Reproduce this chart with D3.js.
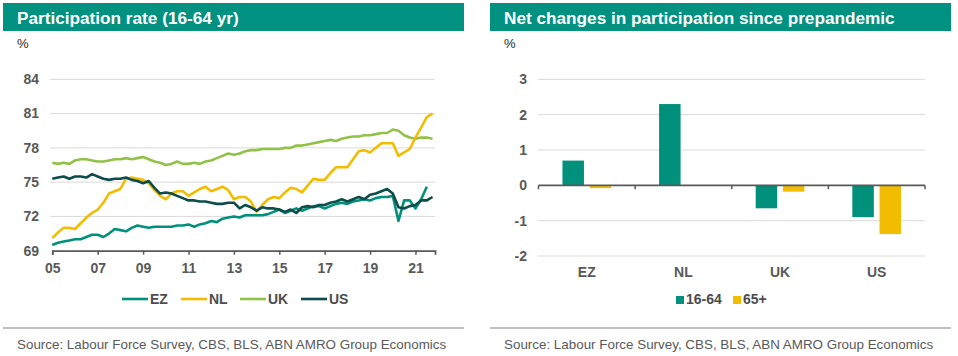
<!DOCTYPE html>
<html><head><meta charset="utf-8">
<script src="https://cdn.jsdelivr.net/npm/d3@7"></script>
<style>
html,body{margin:0;padding:0;background:#fff;}
svg{display:block;font-family:"Liberation Sans",Arial,sans-serif;}
</style></head>
<body>
<svg id="chart" width="958" height="356"></svg>
<script>
// ---------- DATA ----------
const quarters = d3.range(0, 68).map(i => 2005 + i * 0.25); // 2005Q1 .. 2021Q4
const yearTicks = [2005, 2007, 2009, 2011, 2013, 2015, 2017, 2019, 2021];
const leftYTicks = [69, 72, 75, 78, 81, 84];
const seriesNames = ["EZ", "NL", "UK", "US"];
const ezValues = [
  69.5, 69.7, 69.8, 69.9,  70.0, 70.0, 70.2, 70.4,  70.4, 70.2, 70.5, 70.9,  70.8, 70.7, 71.0, 71.2,
  71.1, 71.0, 71.1, 71.1,  71.1, 71.1, 71.2, 71.2,  71.3, 71.1, 71.3, 71.4,  71.6, 71.5, 71.8, 71.9,
  72.0, 71.9, 72.1, 72.1,  72.1, 72.1, 72.2, 72.4,  72.6, 72.3, 72.5, 72.7,  72.5, 72.7, 72.9, 72.9,
  72.7, 72.9, 73.1, 73.2,  73.1, 73.3, 73.4, 73.5,  73.4, 73.6, 73.7, 73.7,  73.8, 71.6, 73.4, 73.4,
  72.7, 73.5, 74.6, null
];
const nlValues = [
  70.1, 70.6, 71.0, 71.0,  70.9, 71.4, 71.9, 72.3,  72.6, 73.2, 74.0, 74.2,  74.4, 75.3, 75.4, 75.3,
  75.2, 74.9, 74.3, 73.8,  73.5, 74.0, 74.2, 74.2,  73.8, 74.1, 74.4, 74.6,  74.2, 74.4, 74.6, 74.3,
  73.5, 73.7, 73.7, 73.3,  72.4, 73.0, 73.5, 73.7,  73.6, 74.1, 74.5, 74.4,  74.1, 74.7, 75.3, 75.2,
  75.2, 75.8, 76.3, 76.3,  76.3, 77.0, 77.7, 77.8,  77.6, 78.0, 78.4, 78.4,  78.4, 77.3, 77.6, 77.9,
  78.9, 79.8, 80.7, 81.0
];
const ukValues = [
  76.7, 76.6, 76.7, 76.6,  76.9, 77.0, 77.0, 76.9,  76.8, 76.8, 76.9, 77.0,  77.0, 77.1, 77.0, 77.1,
  77.2, 77.0, 76.8, 76.7,  76.5, 76.6, 76.8, 76.6,  76.6, 76.7, 76.6, 76.8,  76.9, 77.1, 77.3, 77.5,
  77.4, 77.5, 77.7, 77.8,  77.8, 77.9, 77.9, 77.9,  77.9, 78.0, 78.0, 78.2,  78.2, 78.3, 78.4, 78.5,
  78.6, 78.7, 78.6, 78.8,  78.9, 79.0, 79.0, 79.1,  79.1, 79.2, 79.3, 79.3,  79.6, 79.5, 79.1, 78.9,
  78.8, 78.9, 78.9, 78.8
];
const usValues = [
  75.3, 75.4, 75.5, 75.3,  75.5, 75.5, 75.4, 75.7,  75.5, 75.3, 75.2, 75.3,  75.3, 75.4, 75.2, 75.1,
  74.9, 75.1, 74.5, 74.0,  74.1, 74.0, 73.8, 73.6,  73.4, 73.4, 73.3, 73.3,  73.2, 73.1, 73.1, 73.2,
  73.2, 72.7, 73.0, 72.8,  72.5, 72.8, 72.7, 72.7,  72.6, 72.4, 72.6, 72.3,  72.8, 72.9, 72.8, 73.0,
  73.0, 73.2, 73.3, 73.5,  73.3, 73.5, 73.7, 73.5,  73.9, 74.0, 74.2, 74.4,  74.0, 72.8, 72.7, 72.9,
  73.0, 73.4, 73.4, 73.7
];
const barCategories = ["EZ", "NL", "UK", "US"];
const barSeries = ["16-64", "65+"];
const values1664 = [0.7, 2.3, -0.65, -0.9];
const values65 = [-0.08, 0, -0.18, -1.38];
const rightYTicks = [-2, -1, 0, 1, 2, 3];

// ---------- STYLE ----------
const teal = "#009180";
const colors = { EZ: "#00907c", NL: "#f2bd00", UK: "#92c147", US: "#0c4c4a" };
const barColors = { "16-64": "#00907c", "65+": "#f2bd00" };
const gridColor = "#d9d9d9";
const axisColor = "#595959";
const labelColor = "#595959";
const sourceText = "Source: Labour Force Survey, CBS, BLS, ABN AMRO Group Economics";

const svg = d3.select("#chart");

function panel(x0, x1, title) {
  svg.append("rect").attr("x", x0).attr("y", 3).attr("width", x1 - x0).attr("height", 28).attr("fill", teal);
  svg.append("text").attr("x", x0 + 14).attr("y", 24).attr("fill", "#fff")
    .attr("font-size", 17.2).attr("font-weight", "bold").text(title);
  svg.append("text").attr("x", x0 + 14).attr("y", 48).attr("fill", "#262626")
    .attr("font-size", 13).text("%");
  svg.append("line").attr("x1", x0).attr("x2", x1).attr("y1", 328).attr("y2", 328)
    .attr("stroke", "#bfbfbf").attr("stroke-width", 2);
  svg.append("text").attr("x", x0 + 14).attr("y", 349).attr("fill", labelColor)
    .attr("font-size", 13.4).text(sourceText);
}
panel(3, 464, "Participation rate (16-64 yr)");
panel(490, 951, "Net changes in participation since prepandemic");

// ---------- LEFT CHART ----------
const xL = d3.scaleLinear().domain([2005, 2021.86]).range([52.3, 435]);
const yL = d3.scaleLinear().domain([69, 84]).range([250.7, 79.3]);

const gL = svg.append("g");
gL.append("g").selectAll("line").data(leftYTicks.filter(d => d !== 69)).join("line")
  .attr("x1", 50).attr("x2", 435).attr("y1", d => yL(d)).attr("y2", d => yL(d))
  .attr("stroke", gridColor).attr("stroke-width", 1);
gL.append("g").selectAll("text").data(leftYTicks).join("text")
  .attr("x", 39).attr("y", d => yL(d)).attr("dy", "0.35em").attr("text-anchor", "end")
  .attr("font-size", 14).attr("font-weight", "bold").attr("fill", labelColor).text(d => d);

const seriesData = { EZ: ezValues, NL: nlValues, UK: ukValues, US: usValues };
const line = d3.line().defined(d => d[1] != null).x(d => xL(d[0])).y(d => yL(d[1]));
["UK", "NL", "EZ", "US"].forEach(name => {
  const pts = quarters.map((q, i) => [q, seriesData[name][i]]);
  gL.append("path").datum(pts).attr("d", line).attr("fill", "none")
    .attr("stroke", colors[name]).attr("stroke-width", 2.6).attr("stroke-linejoin", "round");
});

const xAxisL = d3.axisBottom(xL).tickValues(yearTicks).tickSize(4).tickPadding(8)
  .tickFormat(d => String(d % 100).padStart(2, "0"));
const axL = gL.append("g").attr("transform", `translate(0,${yL(69)})`).call(xAxisL);
axL.select(".domain").attr("stroke", axisColor).attr("stroke-width", 1.8);
axL.selectAll(".tick line").attr("stroke", axisColor).attr("stroke-width", 1.5);
axL.selectAll(".tick text").attr("font-size", 14).attr("font-weight", "bold")
  .attr("fill", labelColor).attr("font-family", "Liberation Sans, Arial, sans-serif");

// left legend
const legL = svg.append("g");
const legPos = [{ n: "EZ", x: 122 }, { n: "NL", x: 181 }, { n: "UK", x: 240 }, { n: "US", x: 301 }];
legPos.forEach(p => {
  legL.append("line").attr("x1", p.x).attr("x2", p.x + 26).attr("y1", 299).attr("y2", 299)
    .attr("stroke", colors[p.n]).attr("stroke-width", 2.6);
  legL.append("text").attr("x", p.x + 28).attr("y", 304).attr("font-size", 14).attr("font-weight", "bold")
    .attr("fill", "#4d4d4d").text(p.n);
});

// ---------- RIGHT CHART ----------
const xR = d3.scaleBand().domain(barCategories).range([538.5, 925]).padding(0);
const xInner = d3.scaleBand().domain(barSeries).range([0, xR.bandwidth()])
  .paddingInner(0.21).paddingOuter(0.88);
const yR = d3.scaleLinear().domain([-2, 3]).range([256, 79.3]);

const gR = svg.append("g");
gR.append("g").selectAll("line").data(rightYTicks.filter(d => d !== 0)).join("line")
  .attr("x1", 538).attr("x2", 925).attr("y1", d => yR(d)).attr("y2", d => yR(d))
  .attr("stroke", gridColor).attr("stroke-width", 1);
gR.append("g").selectAll("text").data(rightYTicks).join("text")
  .attr("x", 527).attr("y", d => yR(d)).attr("dy", "0.35em").attr("text-anchor", "end")
  .attr("font-size", 14).attr("font-weight", "bold").attr("fill", labelColor).text(d => d);

const barData = [];
barCategories.forEach((c, i) => {
  barData.push({ c, s: "16-64", v: values1664[i] });
  barData.push({ c, s: "65+", v: values65[i] });
});
gR.append("g").selectAll("rect").data(barData.filter(d => d.v !== 0)).join("rect")
  .attr("x", d => xR(d.c) + xInner(d.s)).attr("width", xInner.bandwidth())
  .attr("y", d => yR(Math.max(0, d.v))).attr("height", d => Math.abs(yR(d.v) - yR(0)))
  .attr("fill", d => barColors[d.s]);

// zero axis with boundary ticks
const zy = yR(0);
gR.append("line").attr("x1", 538.5).attr("x2", 925).attr("y1", zy).attr("y2", zy)
  .attr("stroke", axisColor).attr("stroke-width", 1.8);
const bounds = barCategories.map(c => xR(c)).concat([xR.range()[1]]);
gR.append("g").selectAll("line").data(bounds).join("line")
  .attr("x1", d => d).attr("x2", d => d).attr("y1", zy).attr("y2", zy + 4)
  .attr("stroke", axisColor).attr("stroke-width", 1.5);
gR.append("g").selectAll("text").data(barCategories).join("text")
  .attr("x", d => xR(d) + xR.bandwidth() / 2).attr("y", 277).attr("text-anchor", "middle")
  .attr("font-size", 14).attr("font-weight", "bold").attr("fill", labelColor).text(d => d);

// right legend
const legR = svg.append("g");
const legRPos = [{ s: "16-64", x: 676 }, { s: "65+", x: 733 }];
legRPos.forEach(p => {
  legR.append("rect").attr("x", p.x).attr("y", 296).attr("width", 8).attr("height", 8).attr("fill", barColors[p.s]);
  legR.append("text").attr("x", p.x + 10).attr("y", 304).attr("font-size", 14).attr("font-weight", "bold")
    .attr("fill", "#4d4d4d").text(p.s);
});
</script>
</body></html>
